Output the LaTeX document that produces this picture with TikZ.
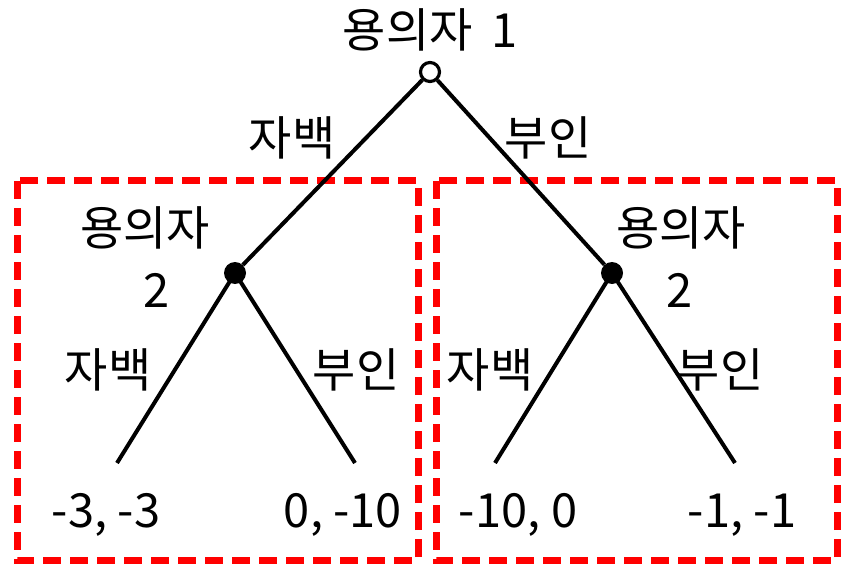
\documentclass[tikz,border=0pt]{standalone}
\usepackage{fontspec}
\setmainfont{Noto Sans CJK KR}
\begin{document}
\begin{tikzpicture}[x=1pt,y=-1pt,
  lbl/.style={font=\fontsize{47}{52}\selectfont, inner sep=0pt},
  edge/.style={line width=4pt},
  opennode/.style={circle, draw, line width=3.2pt, fill=white, minimum size=19pt, inner sep=0pt},
  fullnode/.style={circle, fill=black, minimum size=22pt, inner sep=0pt},
  redbox/.style={draw=red, line width=7pt, dash pattern=on 18pt off 9pt}
]
\useasboundingbox (0,0) rectangle (850,577);
% boxes
\draw[redbox] (17,181) rectangle (418,560);
\draw[redbox] (436,181) rectangle (837,560);
% nodes
\coordinate (l1) at (117,463);
\coordinate (l2) at (355,463);
\coordinate (l3) at (495,463);
\coordinate (l4) at (735,463);
\node[fullnode] (a) at (235,273) {};
\node[fullnode] (b) at (612,273) {};
\node[opennode] (r) at (430,72) {};
\draw[edge] (r) -- (a);
\draw[edge] (r) -- (b);
\draw[edge] (a.center) -- (l1);
\draw[edge] (a.center) -- (l2);
\draw[edge] (b.center) -- (l3);
\draw[edge] (b.center) -- (l4);
% labels
\node[lbl] (t1) at (430,30) {용의자\hspace{8pt} 1};
\node[lbl] (e1) at (292,138) {자백};
\node[lbl] (e2) at (548,138) {부인};
\node[lbl] (p2a) at (145,228) {용의자};
\node[lbl] (n2a) at (157,290) {2};
\node[lbl] (p2b) at (681,228) {용의자};
\node[lbl] (n2b) at (680,290) {2};
\node[lbl] (e3) at (108,370) {자백};
\node[lbl] (e4) at (356,370) {부인};
\node[lbl] (e5) at (490,370) {자백};
\node[lbl] (e6) at (720,370) {부인};
\node[lbl] (v1) at (106,515) {-3, -3};
\node[lbl] (v2) at (343,515) {0, -10};
\node[lbl] (v3) at (518,515) {-10, 0};
\node[lbl] (v4) at (742,515) {-1, -1};
\end{tikzpicture}
\end{document}
